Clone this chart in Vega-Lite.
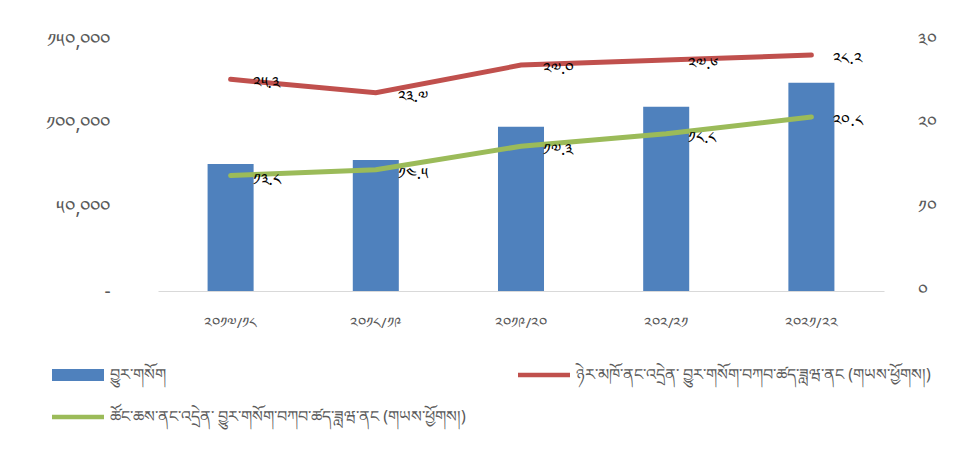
{
  "$schema": "https://vega.github.io/schema/vega-lite/v6.json",
  "width": 726,
  "height": 251,
  "autosize": "none",
  "padding": {"left": 158, "top": 40, "right": 73, "bottom": 164},
  "background": "white",
  "config": {"view": {"stroke": null}, "font": "Noto Sans"},
  "data": {
    "values": [
      {"year": "༢༠༡༧/༡༨", "series": "བྱུར་གསོག", "value": 75900},
      {"year": "༢༠༡༨/༡༩", "series": "བྱུར་གསོག", "value": 78300},
      {"year": "༢༠༡༩/༢༠", "series": "བྱུར་གསོག", "value": 98200},
      {"year": "༢༠༢/༢༡", "series": "བྱུར་གསོག", "value": 110100},
      {"year": "༢༠༢༡/༢༢", "series": "བྱུར་གསོག", "value": 124500},
      {"year": "༢༠༡༧/༡༨", "series": "ཉེར་མཁོ་ནང་འདྲེན་  བྱུར་གསོག་བཀབ་ཚད་ཟླཝ་ནང  (གཡས་ཕྱོགས།)", "value": 25.3},
      {"year": "༢༠༡༨/༡༩", "series": "ཉེར་མཁོ་ནང་འདྲེན་  བྱུར་གསོག་བཀབ་ཚད་ཟླཝ་ནང  (གཡས་ཕྱོགས།)", "value": 23.7},
      {"year": "༢༠༡༩/༢༠", "series": "ཉེར་མཁོ་ནང་འདྲེན་  བྱུར་གསོག་བཀབ་ཚད་ཟླཝ་ནང  (གཡས་ཕྱོགས།)", "value": 27.0},
      {"year": "༢༠༢/༢༡", "series": "ཉེར་མཁོ་ནང་འདྲེན་  བྱུར་གསོག་བཀབ་ཚད་ཟླཝ་ནང  (གཡས་ཕྱོགས།)", "value": 27.6},
      {"year": "༢༠༢༡/༢༢", "series": "ཉེར་མཁོ་ནང་འདྲེན་  བྱུར་གསོག་བཀབ་ཚད་ཟླཝ་ནང  (གཡས་ཕྱོགས།)", "value": 28.2},
      {"year": "༢༠༡༧/༡༨", "series": "ཚོང་ཆས་ནང་འདྲེན་  བྱུར་གསོག་བཀབ་ཚད་ཟླཝ་ནང  (གཡས་ཕྱོགས།)", "value": 13.8},
      {"year": "༢༠༡༨/༡༩", "series": "ཚོང་ཆས་ནང་འདྲེན་  བྱུར་གསོག་བཀབ་ཚད་ཟླཝ་ནང  (གཡས་ཕྱོགས།)", "value": 14.5},
      {"year": "༢༠༡༩/༢༠", "series": "ཚོང་ཆས་ནང་འདྲེན་  བྱུར་གསོག་བཀབ་ཚད་ཟླཝ་ནང  (གཡས་ཕྱོགས།)", "value": 17.3},
      {"year": "༢༠༢/༢༡", "series": "ཚོང་ཆས་ནང་འདྲེན་  བྱུར་གསོག་བཀབ་ཚད་ཟླཝ་ནང  (གཡས་ཕྱོགས།)", "value": 18.8},
      {"year": "༢༠༢༡/༢༢", "series": "ཚོང་ཆས་ནང་འདྲེན་  བྱུར་གསོག་བཀབ་ཚད་ཟླཝ་ནང  (གཡས་ཕྱོགས།)", "value": 20.8}
    ]
  },
  "encoding": {
    "x": {
      "field": "year",
      "type": "nominal",
      "sort": null,
      "scale": {"paddingInner": 0.683, "paddingOuter": 0.3415},
      "axis": {
        "title": null,
        "labelAngle": 0,
        "ticks": false,
        "domainColor": "#D9D9D9",
        "domainWidth": 1,
        "labelColor": "#595959",
        "labelFontSize": 15,
        "labelPadding": 24
      }
    }
  },
  "layer": [
    {
      "transform": [{"filter": "datum.series === 'བྱུར་གསོག'"}],
      "mark": {"type": "bar"},
      "encoding": {
        "y": {
          "field": "value",
          "type": "quantitative",
          "scale": {"domain": [0, 150000]},
          "axis": {
            "title": null,
            "values": [0, 50000, 100000, 150000],
            "grid": false,
            "domain": false,
            "ticks": false,
            "labelPadding": 48,
            "labelColor": "#595959",
            "labelFontSize": 19,
            "labelExpr": "datum.value == 0 ? '-' : replace(replace(replace(replace(replace(replace(replace(replace(replace(replace(format(datum.value, ',d'), regexp('0','g'), '༠'), regexp('1','g'), '༡'), regexp('2','g'), '༢'), regexp('3','g'), '༣'), regexp('4','g'), '༤'), regexp('5','g'), '༥'), regexp('6','g'), '༦'), regexp('7','g'), '༧'), regexp('8','g'), '༨'), regexp('9','g'), '༩')"
          }
        },
        "color": {
          "field": "series",
          "type": "nominal",
          "scale": {
            "domain": [
              "བྱུར་གསོག",
              "ཚོང་ཆས་ནང་འདྲེན་  བྱུར་གསོག་བཀབ་ཚད་ཟླཝ་ནང  (གཡས་ཕྱོགས།)",
              "ཉེར་མཁོ་ནང་འདྲེན་  བྱུར་གསོག་བཀབ་ཚད་ཟླཝ་ནང  (གཡས་ཕྱོགས།)"
            ],
            "range": ["#4F81BD", "#9BBB59", "#C0504D"]
          },
          "legend": {
            "orient": "none",
            "legendX": -106,
            "legendY": 309,
            "columns": 2,
            "title": null,
            "columnPadding": 43,
            "rowPadding": 8,
            "symbolSize": 2704,
            "labelOffset": 6,
            "labelFontSize": 16,
            "labelColor": "#595959",
            "labelLimit": 0,
            "encode": {
              "symbols": {
                "update": {
                  "shape": [
                    {"test": "datum.value === 'བྱུར་གསོག'", "value": "M-1,-0.23H1V0.23H-1Z"},
                    {"value": "M-1,-0.09H1V0.09H-1Z"}
                  ],
                  "fill": {"scale": "color", "field": "value"},
                  "stroke": {"value": "transparent"},
                  "strokeWidth": {"value": 0},
                  "opacity": {"value": 1}
                }
              }
            }
          }
        }
      }
    },
    {
      "transform": [
        {"filter": "datum.series !== 'བྱུར་གསོག'"},
        {"calculate": "replace(replace(replace(replace(replace(replace(replace(replace(replace(replace(format(datum.value, '.1f'), regexp('0','g'), '༠'), regexp('1','g'), '༡'), regexp('2','g'), '༢'), regexp('3','g'), '༣'), regexp('4','g'), '༤'), regexp('5','g'), '༥'), regexp('6','g'), '༦'), regexp('7','g'), '༧'), regexp('8','g'), '༨'), regexp('9','g'), '༩')", "as": "lbl"}
      ],
      "encoding": {
        "y": {
          "field": "value",
          "type": "quantitative",
          "scale": {"domain": [0, 30]},
          "axis": {
            "orient": "right",
            "title": null,
            "values": [0, 10, 20, 30],
            "grid": false,
            "domain": false,
            "ticks": false,
            "labelPadding": 33,
            "labelColor": "#595959",
            "labelFontSize": 18,
            "labelExpr": "replace(replace(replace(replace(format(datum.value, 'd'), regexp('0','g'), '༠'), regexp('1','g'), '༡'), regexp('2','g'), '༢'), regexp('3','g'), '༣')"
          }
        }
      },
      "layer": [
        {
          "mark": {"type": "line", "strokeWidth": 5, "strokeCap": "round"},
          "encoding": {
            "color": {
              "field": "series",
              "type": "nominal",
              "scale": {
                "domain": [
                  "བྱུར་གསོག",
                  "ཚོང་ཆས་ནང་འདྲེན་  བྱུར་གསོག་བཀབ་ཚད་ཟླཝ་ནང  (གཡས་ཕྱོགས།)",
                  "ཉེར་མཁོ་ནང་འདྲེན་  བྱུར་གསོག་བཀབ་ཚད་ཟླཝ་ནང  (གཡས་ཕྱོགས།)"
                ],
                "range": ["#4F81BD", "#9BBB59", "#C0504D"]
              }
            }
          }
        },
        {
          "mark": {"type": "text", "align": "left", "baseline": "middle", "dx": 22, "dy": 4, "fontSize": 16, "color": "#000000"},
          "encoding": {"text": {"field": "lbl"}}
        }
      ]
    }
  ],
  "resolve": {"scale": {"y": "independent"}}
}
